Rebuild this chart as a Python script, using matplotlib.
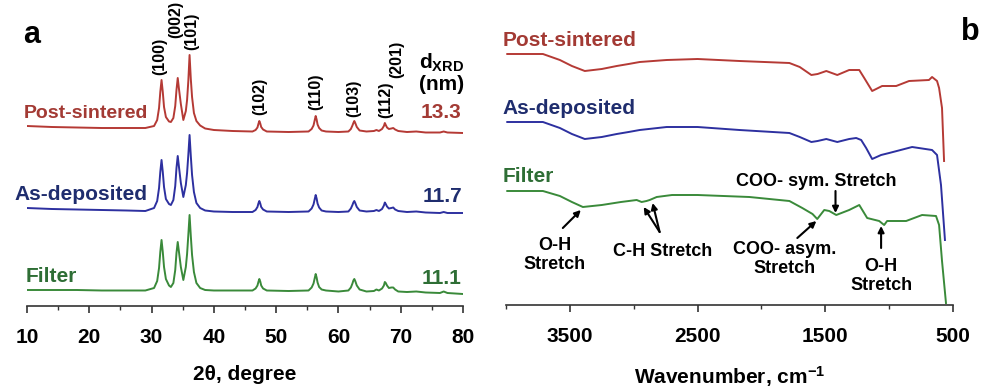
import matplotlib
matplotlib.use('Agg')
import matplotlib.pyplot as plt
from matplotlib.ticker import MultipleLocator, FixedLocator

plt.rcParams['font.family'] = ['Liberation Sans', 'DejaVu Sans']
plt.rcParams['font.weight'] = 'bold'
plt.rcParams['mathtext.fontset'] = 'custom'
plt.rcParams['mathtext.rm'] = 'Liberation Sans:bold'
plt.rcParams['mathtext.bf'] = 'Liberation Sans:bold'
plt.rcParams['mathtext.it'] = 'Liberation Sans:bold'

# ---- panel a: XRD (stacked) ----
two_theta = [10, 14, 18, 22, 26, 29,
             30.4, 30.9, 31.2, 31.4, 31.6, 31.8, 32.0, 32.3, 32.8, 33.1,
             33.5, 33.8, 34.0, 34.2, 34.4, 34.7, 35.1,
             35.5, 35.7, 35.9, 36.1, 36.3, 36.5, 36.8, 37.2, 37.8, 38.6,
             40, 43, 46.2,
             46.7, 47.0, 47.15, 47.3, 47.45, 47.6, 47.9, 48.5,
             52, 55.2,
             55.7, 56.0, 56.2, 56.35, 56.5, 56.65, 56.9, 57.3, 58.0,
             60, 61.6,
             62.0, 62.25, 62.4, 62.55, 62.7, 62.95, 63.4,
             64.5, 65.7, 66.1, 66.5,
             67.0, 67.3, 67.45, 67.6, 67.8, 68.1, 68.5, 68.8, 69.1, 69.6,
             71, 72.5, 74, 76.3, 76.9, 77.5, 80]

xrd_post = [182, 181, 180.5, 180, 180, 180,
            182, 188, 200, 216, 228, 216, 201, 191, 186.5, 186,
            190, 202, 218, 230, 219, 204, 188,
            197, 208, 227, 253, 229, 211, 195, 187, 182.5, 179.5,
            178, 177, 176.5,
            178, 180.5, 184, 187, 184.5, 181, 178.5, 176.5,
            176, 176.5,
            179, 182.5, 188, 192, 188.5, 183.5, 180, 177.5, 176.5,
            176, 176.5,
            179, 182.5, 185, 187, 185, 181, 177.5,
            176.5, 177, 178, 177,
            179, 182, 185, 183, 180.5, 179, 179.5, 180, 178.5, 177,
            176, 176.5, 175.5, 175.5, 176.5, 175.5, 175]

xrd_asdep = [100, 99, 98.5, 98, 97.5, 97,
             100, 107, 120, 136, 148, 136, 121, 109, 104, 103,
             108, 122, 140, 152, 141, 125, 111,
             123, 135, 153, 173, 152, 133, 116, 105, 100, 97.5,
             96.5, 96, 96,
             98, 101, 104.5, 107, 104.5, 101, 98.5, 96.5,
             96, 96.5,
             99.5, 103.5, 109, 113, 109.5, 104.5, 100.5, 97.5, 96.5,
             96, 96.5,
             99.5, 103, 105.5, 107, 105, 101, 97.5,
             96.5, 97, 98, 97,
             99, 102.5, 105.5, 104, 101.5, 99.5, 100, 100.5, 98.5, 97,
             96, 96.5, 95.5, 95, 96, 95, 95]

xrd_filter = [18, 18, 18, 17.5, 17.5, 17.5,
              20, 27, 40, 56, 68, 56, 41, 29, 22.5, 21,
              25, 38, 55, 66, 56, 41, 28,
              41, 54, 73, 93, 72, 53, 36, 25, 20, 18,
              17.5, 17.5, 17.5,
              19.5, 22.5, 26, 29, 26.5, 22.5, 19.5, 17.5,
              17, 17.5,
              20.5, 24.5, 30, 34, 30.5, 25.5, 21, 18.5, 17.5,
              16.5, 17.5,
              20.5, 24.5, 27.5, 29, 27, 22.5, 18.5,
              16.5, 17, 18.5, 17.5,
              19.5, 22.5, 26, 25, 22.5, 20, 20.5, 20.5, 18.5, 16.5,
              16, 16.5, 15.5, 15, 16.5, 15, 14]

peak_labels = ['(100)', '(002)', '(101)', '(102)', '(110)', '(103)', '(112)', '(201)']
peak_pos = [31.3, 33.9, 36.4, 47.3, 56.4, 62.5, 67.6, 69.4]
peak_label_y = [233, 270, 258, 193, 198, 191, 190, 230]

samples = ['Post-sintered', 'As-deposited', 'Filter']
d_xrd = ['13.3', '11.7', '11.1']

# ---- panel b: FTIR (stacked) ----
wn_post = [3990, 3711, 3578, 3484, 3383, 3250, 3133, 3040, 2953, 2742, 2500, 2172,
           1781, 1700, 1609, 1560, 1492, 1406, 1313, 1234, 1195, 1133, 1055, 945,
           844, 688, 664, 625, 609, 586, 570]
ir_post = [250, 250, 244, 238, 233, 235, 238, 240, 242, 244, 245, 243,
           241, 237, 229, 230, 233, 229, 234, 234, 226, 213, 218, 218,
           223, 224, 227, 223, 216, 196, 143]

wn_asdep = [3990, 3711, 3578, 3484, 3383, 3250, 3133, 3040, 2953, 2742, 2500, 2172,
            1781, 1700, 1609, 1560, 1492, 1406, 1313, 1258, 1219, 1180, 1133, 1063,
            1000, 820, 664, 625, 594, 563]
ir_asdep = [182, 182, 176, 170, 165, 167, 170, 172, 174, 177, 177, 174,
            171, 167, 162, 163, 165, 162, 165, 166, 164, 156, 145, 149,
            151, 157, 154, 149, 119, 64]

wn_filter = [3990, 3711, 3578, 3484, 3398, 3250, 3100, 2977, 2938, 2900, 2875, 2820,
             2700, 2500, 2094, 1781, 1680, 1600, 1563, 1508, 1469, 1414, 1313, 1234,
             1172, 1078, 1039, 1016, 961, 867, 742, 633, 609, 586, 555]
ir_filter = [113, 113, 108, 102, 97, 99, 102, 104, 102, 103, 104, 107,
             109, 109, 107, 103, 96, 90, 85, 94, 93, 89, 94, 99,
             86, 83, 79, 83, 83, 83, 89, 88, 79, 43, 1]

line_colors = ['#b53a35', '#2d30a0', '#3a8a3a']
text_colors = ['#a33a34', '#1f2d6e', '#2e6e35']

fig = plt.figure(figsize=(9.83, 3.90), dpi=100)
ax1 = fig.add_axes([27 / 983, 84 / 390, 436 / 983, 296 / 390])
ax2 = fig.add_axes([506 / 983, 85 / 390, 447 / 983, 296 / 390])

for ax in (ax1, ax2):
    for s in ('left', 'top', 'right'):
        ax.spines[s].set_visible(False)
    ax.spines['bottom'].set_linewidth(1.2)
    ax.spines['bottom'].set_color('#333333')
    ax.set_yticks([])
    ax.tick_params(axis='x', which='major', direction='out', length=5, width=1.2,
                   labelsize=15, pad=11, color='#333333')
    ax.tick_params(axis='x', which='minor', direction='out', length=3, width=1.0,
                   color='#333333')

# panel a
for ys, lc in zip([xrd_post, xrd_asdep, xrd_filter], line_colors):
    ax1.plot(two_theta, ys, color=lc, lw=1.4)
ax1.set_xlim(10, 80)
ax1.set_ylim(2, 298)
ax1.xaxis.set_major_locator(MultipleLocator(10))
ax1.xaxis.set_minor_locator(MultipleLocator(5))
ax1.set_xlabel('2θ, degree', fontsize=15, fontweight='bold', labelpad=13)

ax1.text(29.4, 195, samples[0], ha='right', va='center', fontsize=14,
         color=text_colors[0], clip_on=False)
ax1.text(29.4, 113, samples[1], ha='right', va='center', fontsize=15,
         color=text_colors[1], clip_on=False)
ax1.text(9.7, 31, samples[2], ha='left', va='center', fontsize=15,
         color=text_colors[2], clip_on=False)
for val, yv, tc in zip(d_xrd, [195, 111, 29], text_colors):
    ax1.text(79.8, yv, val, ha='right', va='center', fontsize=15, color=tc)

for lab, px, py in zip(peak_labels, peak_pos, peak_label_y):
    ax1.text(px, py, lab, rotation=90, ha='center', va='bottom', fontsize=11.5)

ax1.text(76.6, 245, r'd$_{\mathrm{XRD}}$', ha='center', va='center', fontsize=15)
ax1.text(76.6, 223, '(nm)', ha='center', va='center', fontsize=15)

# panel b
for wn, ys, lc in zip([wn_post, wn_asdep, wn_filter], [ir_post, ir_asdep, ir_filter], line_colors):
    ax2.plot(wn, ys, color=lc, lw=1.4)
ax2.set_xlim(4000, 500)
ax2.set_ylim(-1, 295)
ax2.xaxis.set_major_locator(FixedLocator([3500, 2500, 1500, 500]))
ax2.xaxis.set_minor_locator(FixedLocator([4000, 3000, 2000, 1000]))
ax2.set_xlabel('Wavenumber, cm$^{-1}$', fontsize=15, fontweight='bold', labelpad=13)

for name, yv, tc in zip(samples, [263, 195, 127], text_colors):
    ax2.text(4030, yv, name, ha='left', va='center', fontsize=15, color=tc, clip_on=False)

arrow = dict(arrowstyle='-|>', color='black', lw=1.5, mutation_scale=9,
             shrinkA=0, shrinkB=0)
ax2.text(3617, 49, 'O-H\nStretch', ha='center', va='center', fontsize=13, linespacing=1.1)
ax2.annotate('', xy=(3414, 94), xytext=(3555, 76), arrowprops=arrow)
ax2.text(2773, 53, 'C-H Stretch', ha='center', va='center', fontsize=13)
ax2.annotate('', xy=(2922, 97), xytext=(2797, 72), arrowprops=arrow)
ax2.annotate('', xy=(2852, 101), xytext=(2797, 72), arrowprops=arrow)
ax2.text(1820, 45, 'COO- asym.\nStretch', ha='center', va='center', fontsize=13,
         linespacing=1.1)
ax2.annotate('', xy=(1570, 83), xytext=(1719, 66), arrowprops=arrow)
ax2.text(1570, 123, 'COO- sym. Stretch', ha='center', va='center', fontsize=13)
ax2.annotate('', xy=(1420, 91), xytext=(1420, 113), arrowprops=arrow)
ax2.text(1063, 28, 'O-H\nStretch', ha='center', va='center', fontsize=13, linespacing=1.1)
ax2.annotate('', xy=(1063, 78), xytext=(1063, 56), arrowprops=arrow)

fig.text(32 / 983, 1 - 35 / 390, 'a', fontsize=22, ha='center', va='center')
fig.text(970 / 983, 1 - 32 / 390, 'b', fontsize=22, ha='center', va='center')

fig.savefig('out.png', dpi=100)
